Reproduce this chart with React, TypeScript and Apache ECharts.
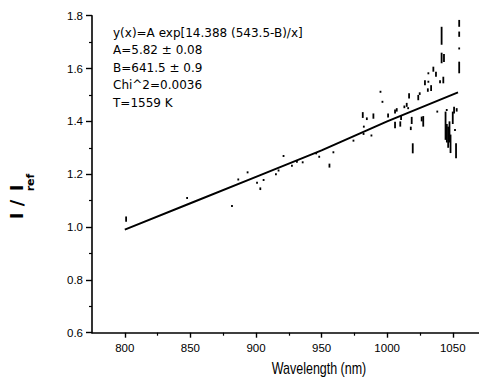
import React, { useEffect, useRef } from "react";
import * as echarts from "echarts";

// Fit line
const fitX = [800, 850, 900, 950, 1000, 1054];
const fitY = [0.99, 1.09, 1.19, 1.29, 1.40, 1.51];

// Measured marks: wavelength, low and high of each mark (I/Iref)
const ptX = [
  801, 847.5, 881.7, 886.5, 893.6, 900.8, 903.3, 905.8, 915.2, 917.2,
  921, 927.4, 931.2, 935.6, 945.9, 948.2, 956, 959, 974.3, 981.4,
  984.5, 989.5, 982.2, 982, 988, 994.9, 996.4, 1000.7, 1006, 1007.3,
  1006, 1010, 1010.6, 1013.1, 1014.9, 1016.7, 1016, 1018, 1018.7, 1019.5,
  1023.7, 1024.8, 1026.3, 1027.5, 1031, 1033.5, 1038.2, 1040.3, 1044.5, 1045.5,
  1046.5, 1047.5, 1048.3, 1050, 1051, 1051.7, 1052.5, 1053, 1041.5, 1054.9,
  1054.9, 1054.9, 1054.9, 1041.5, 1043.3, 1035.2, 1037.2, 1042.8, 1031.4, 1028.8,
  1031.4, 1045.4,
];
const ptLo = [
  1.02, 1.11, 1.08, 1.18, 1.207, 1.168, 1.14, 1.178, 1.2, 1.214,
  1.269, 1.232, 1.247, 1.245, 1.279, 1.266, 1.225, 1.283, 1.327, 1.413,
  1.405, 1.41, 1.38, 1.35, 1.345, 1.512, 1.474, 1.415, 1.43, 1.437,
  1.374, 1.38, 1.405, 1.45, 1.455, 1.487, 1.45, 1.367, 1.39, 1.279,
  1.48, 1.5, 1.4, 1.38, 1.512, 1.515, 1.437, 1.544, 1.33, 1.32,
  1.3, 1.32, 1.28, 1.39, 1.43, 1.367, 1.26, 1.437, 1.69, 1.758,
  1.72, 1.676, 1.582, 1.62, 1.625, 1.588, 1.569, 1.544, 1.582, 1.537,
  1.55, 1.443,
];
const ptHi = [
  1.04, 1.11, 1.08, 1.18, 1.207, 1.168, 1.15, 1.178, 1.2, 1.214,
  1.269, 1.232, 1.247, 1.245, 1.279, 1.266, 1.24, 1.283, 1.327, 1.435,
  1.415, 1.43, 1.38, 1.355, 1.348, 1.512, 1.474, 1.43, 1.445, 1.45,
  1.399, 1.4, 1.424, 1.46, 1.47, 1.506, 1.45, 1.38, 1.417, 1.317,
  1.5, 1.51, 1.418, 1.42, 1.525, 1.537, 1.437, 1.556, 1.437, 1.39,
  1.38, 1.4, 1.35, 1.437, 1.455, 1.367, 1.317, 1.45, 1.758, 1.784,
  1.74, 1.676, 1.626, 1.66, 1.655, 1.607, 1.588, 1.569, 1.582, 1.556,
  1.55, 1.443,
];

const xMajor = [800, 850, 900, 950, 1000, 1050];
const xMinor = [825, 875, 925, 975, 1025];

const annotation = [
  "y(x)=A exp[14.388 (543.5-B)/x]",
  "A=5.82 \u00B1 0.08",
  "B=641.5 \u00B1 0.9",
  "Chi^2=0.0036",
  "T=1559 K",
];

export default function App() {
  const ref = useRef<HTMLDivElement>(null);
  useEffect(() => {
    if (!ref.current) return;
    const chart = echarts.init(ref.current, null, { renderer: "svg" });
    const tickFont = { color: "#000", fontFamily: "Liberation Sans", fontSize: 11.5 };
    const annFont = { fill: "#000", fontFamily: "DejaVu Sans", fontSize: 12 };
    const lineYs = [32.5, 50, 67.5, 85, 102.5];
    chart.setOption({
      animation: false,
      backgroundColor: "#fff",
      grid: { left: 92, right: 0, top: 15.7, bottom: 45.3, containLabel: false },
      xAxis: [
        {
          type: "value",
          min: 775,
          max: 1070,
          axisLine: { show: true, onZero: false, lineStyle: { color: "#000", width: 1.6 } },
          axisTick: { show: true, customValues: xMajor, length: 5, lineStyle: { color: "#000", width: 1.4 } },
          axisLabel: { customValues: xMajor, margin: 9, formatter: (v: number) => String(v), ...tickFont },
          splitLine: { show: false },
        },
        {
          type: "value",
          min: 775,
          max: 1070,
          position: "bottom",
          axisLine: { show: false, onZero: false },
          axisTick: { show: true, customValues: xMinor, length: 3, lineStyle: { color: "#000", width: 1.2 } },
          axisLabel: { show: false },
          splitLine: { show: false },
        },
      ],
      yAxis: {
        type: "value",
        min: 0.6,
        max: 1.8,
        interval: 0.2,
        axisLine: { show: true, onZero: false, lineStyle: { color: "#000", width: 1.6 } },
        axisTick: { show: true, length: 6, lineStyle: { color: "#000", width: 1.4 } },
        minorTick: { show: true, splitNumber: 2, length: 3, lineStyle: { color: "#000", width: 1.2 } },
        axisLabel: { margin: 9, formatter: (v: number) => v.toFixed(1), ...tickFont },
        splitLine: { show: false },
      },
      series: [
        {
          type: "custom",
          xAxisIndex: 0,
          yAxisIndex: 0,
          data: ptX.map((x, i) => [x, ptLo[i], ptHi[i]]),
          encode: { x: 0, y: [1, 2] },
          renderItem: (params: any, api: any) => {
            const x = api.value(0);
            const p1 = api.coord([x, api.value(2)]);
            const p2 = api.coord([x, api.value(1)]);
            const h = Math.max(p2[1] - p1[1], 2);
            const cy = (p1[1] + p2[1]) / 2;
            return {
              type: "rect",
              shape: { x: p1[0] - 0.9, y: cy - h / 2, width: 1.8, height: h },
              style: { fill: "#000" },
            };
          },
        },
        {
          type: "line",
          xAxisIndex: 0,
          yAxisIndex: 0,
          data: fitX.map((x, i) => [x, fitY[i]]),
          showSymbol: false,
          symbol: "none",
          smooth: false,
          lineStyle: { color: "#000", width: 2 },
        },
      ],
      graphic: [
        ...annotation.map((t, i) => ({
          type: "text",
          x: 113,
          y: lineYs[i],
          style: { text: t, ...annFont, textAlign: "left", textVerticalAlign: "middle" },
        })),
        {
          type: "text",
          x: 319,
          y: 368,
          scaleX: 0.78,
          style: {
            text: "Wavelength (nm)",
            fill: "#000",
            fontFamily: "Liberation Sans",
            fontSize: 16,
            textAlign: "center",
            textVerticalAlign: "middle",
          },
        },
        {
          type: "text",
          x: 16.5,
          y: 216,
          rotation: Math.PI / 2,
          style: { text: "I", fill: "#000", fontFamily: "DejaVu Sans", fontWeight: "bold", fontSize: 18, textAlign: "center", textVerticalAlign: "middle" },
        },
        {
          type: "text",
          x: 16.5,
          y: 203,
          rotation: Math.PI / 2,
          style: { text: "/", fill: "#000", fontFamily: "DejaVu Sans", fontWeight: "bold", fontSize: 18, textAlign: "center", textVerticalAlign: "middle" },
        },
        {
          type: "text",
          x: 16.5,
          y: 188,
          rotation: Math.PI / 2,
          style: { text: "I", fill: "#000", fontFamily: "DejaVu Sans", fontWeight: "bold", fontSize: 18, textAlign: "center", textVerticalAlign: "middle" },
        },
        {
          type: "text",
          x: 30,
          y: 182.5,
          rotation: Math.PI / 2,
          style: { text: "ref", fill: "#000", fontFamily: "DejaVu Sans", fontWeight: "bold", fontSize: 11, textAlign: "center", textVerticalAlign: "middle" },
        },
      ],
    });
    return () => chart.dispose();
  }, []);
  return (
    <div
      ref={ref}
      style={{ position: "fixed", left: 0, top: 0, width: 479, height: 378, background: "#fff" }}
    />
  );
}
